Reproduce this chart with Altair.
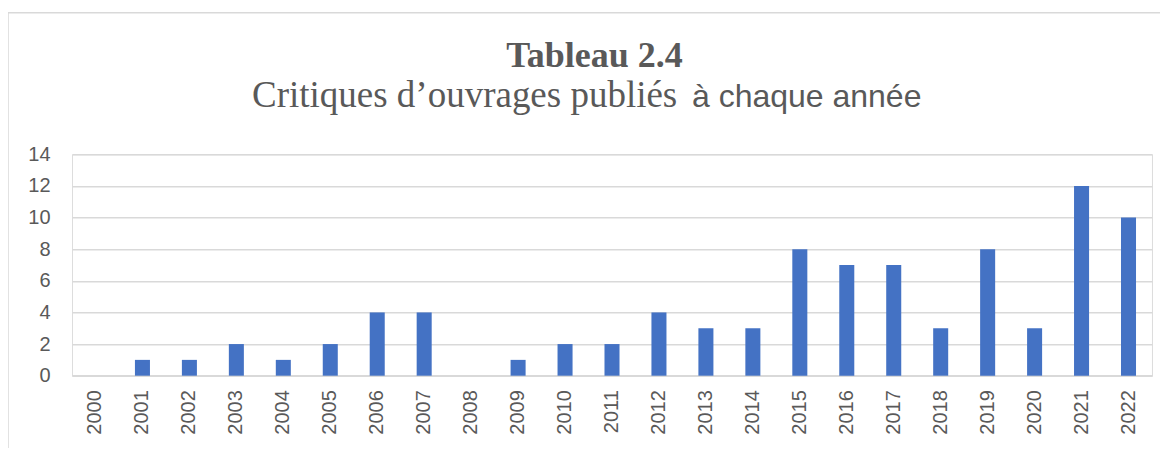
import altair as alt
import pandas as pd

years = [str(y) for y in range(2000, 2023)]
counts = [0, 1, 1, 2, 1, 2, 4, 4, 0, 1, 2, 2, 4, 3, 3, 8, 7, 7, 3, 8, 3, 12, 10]
y_ticks = [0, 2, 4, 6, 8, 10, 12, 14]
title_main = "Tableau 2.4"
subtitle_serif = "Critiques d’ouvrages publiés"
subtitle_sans = "à chaque année"

df = pd.DataFrame({"year": years, "count": counts})

W, H = 1080, 221.4
GREY = "#595959"
GRID = "#d9d9d9"

bars = alt.Chart(df).mark_bar(color="#4472C4").encode(
    x=alt.X(
        "year:N",
        sort=years,
        scale=alt.Scale(paddingInner=0.68, paddingOuter=0.34),
        axis=alt.Axis(
            title=None, labelAngle=270, labelFont="Liberation Sans", labelFontSize=20,
            labelColor=GREY, labelPadding=14, ticks=False, domainColor=GRID,
            domainWidth=1.5,
        ),
    ),
    y=alt.Y(
        "count:Q",
        scale=alt.Scale(domain=[0, 14], nice=False),
        axis=alt.Axis(
            title=None, values=y_ticks, grid=True, gridColor=GRID, gridWidth=1.5,
            domain=False, ticks=False, labelFont="Liberation Sans", labelFontSize=20,
            labelColor=GREY, labelPadding=22,
        ),
    ),
)


def txt(s, x, y, font, size, bold=False, align="center"):
    return alt.Chart(pd.DataFrame({"t": [s]})).mark_text(
        font=font, fontSize=size, fontWeight="bold" if bold else "normal",
        color=GREY, align=align, baseline="alphabetic",
    ).encode(text="t:N", x=alt.value(x), y=alt.value(y))


t1 = txt(title_main, 522.5, -87.6, "Liberation Serif", 36, bold=True)
t2 = txt(subtitle_serif, 180, -47, "Liberation Serif", 37, align="left")
t3 = txt(subtitle_sans, 620, -47.5, "Liberation Sans", 32, align="left")

one = pd.DataFrame({"a": [0]})
frame_left = alt.Chart(one).mark_rule(color=GRID, strokeWidth=1.5).encode(
    x=alt.value(-64), y=alt.value(-141.6), y2=alt.value(400)
)
frame_top = alt.Chart(one).mark_rule(color=GRID, strokeWidth=1.5).encode(
    y=alt.value(-141.6), x=alt.value(-64), x2=alt.value(1200)
)

chart = alt.layer(frame_left, frame_top, bars, t1, t2, t3).properties(
    width=W, height=H,
    autosize=alt.AutoSizeParams(type="none"),
    padding={"left": 64, "top": 146.3, "right": 8, "bottom": 72},
).configure_view(stroke=None).configure(background="white")

chart.save("out.html", embed_options={"renderer": "svg", "actions": False})
